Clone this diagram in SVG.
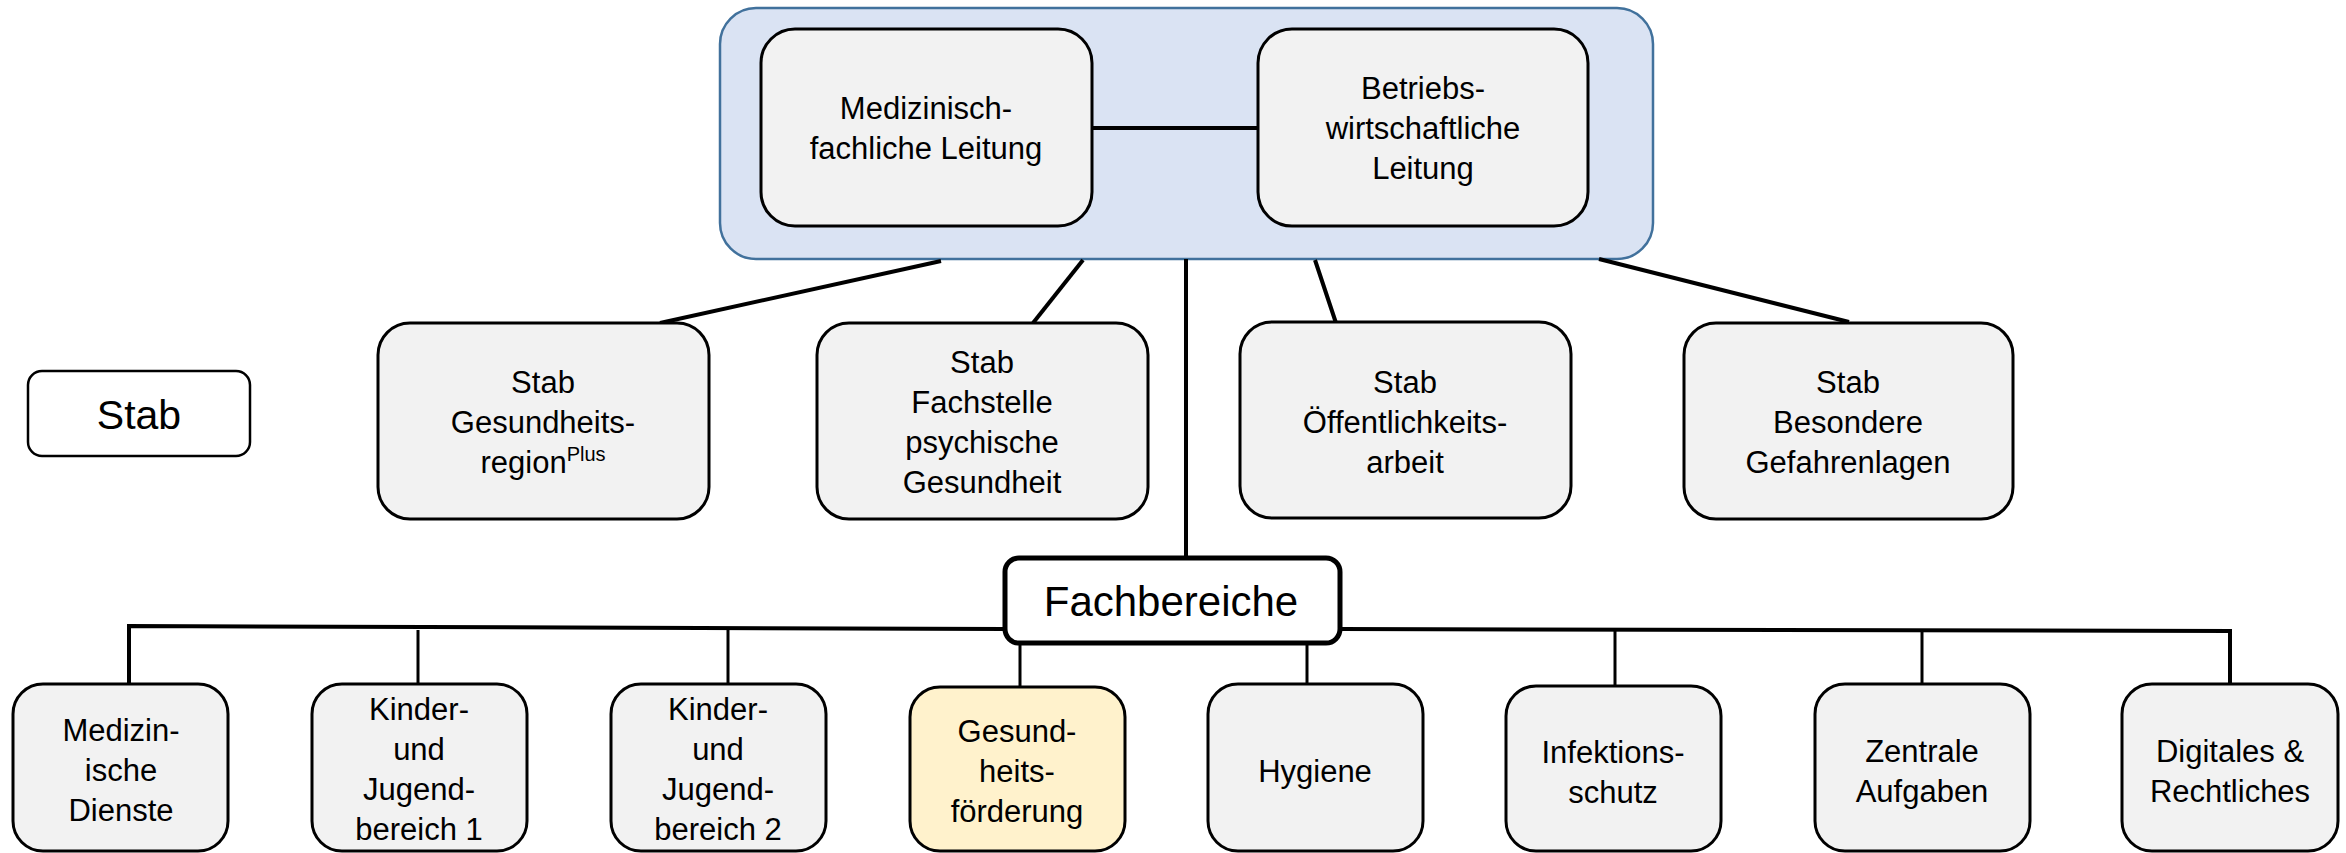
<svg xmlns="http://www.w3.org/2000/svg" width="2346" height="853" viewBox="0 0 2346 853">
<style>
text{font-family:"Liberation Sans",Arial,sans-serif;font-size:31px;fill:#000;text-anchor:middle}
.box{fill:#F2F2F2;stroke:#000;stroke-width:3}
.yel{fill:#FFF2CC;stroke:#000;stroke-width:3}
.thick{stroke:#000;stroke-width:4;fill:none}
.thin{stroke:#000;stroke-width:3;fill:none}
</style>
<rect width="2346" height="853" fill="#fff"/>
<g id="leitung">
<rect x="720" y="8" width="933" height="251" rx="36" fill="#DAE3F3" stroke="#41719C" stroke-width="2.5"/>
</g>
<g id="connectors">
<line class="thick" x1="1092" y1="128" x2="1258" y2="128"/>
<line class="thick" x1="941" y1="261" x2="660" y2="323"/>
<line class="thick" x1="1083" y1="260" x2="1033" y2="323"/>
<line class="thick" x1="1186" y1="259" x2="1186" y2="558"/>
<line class="thick" x1="1315" y1="260" x2="1336" y2="323"/>
<line class="thick" x1="1599" y1="259" x2="1849" y2="322"/>
<polyline class="thick" points="129,684 129,626 1005,629"/>
<polyline class="thick" points="1340,629 2230,631 2230,688"/>
<line class="thin" x1="418" y1="630" x2="418" y2="684"/>
<line class="thin" x1="728" y1="629" x2="728" y2="684"/>
<line class="thin" x1="1020" y1="643" x2="1020" y2="687"/>
<line class="thin" x1="1307" y1="643" x2="1307" y2="684"/>
<line class="thin" x1="1615" y1="631" x2="1615" y2="686"/>
<line class="thin" x1="1922" y1="631" x2="1922" y2="684"/>
</g>
<g id="medizinisch-fachliche-leitung">
<rect class="box" x="761" y="29" width="331" height="197" rx="34"/>
<text x="926" y="119">Medizinisch-</text>
<text x="926" y="159">fachliche Leitung</text>
</g>
<g id="betriebswirtschaftliche-leitung">
<rect class="box" x="1258" y="29" width="330" height="197" rx="34"/>
<text x="1423" y="99">Betriebs-</text>
<text x="1423" y="139">wirtschaftliche</text>
<text x="1423" y="179">Leitung</text>
</g>
<g id="stab-legende">
<rect x="28" y="371" width="222" height="85" rx="14" fill="#fff" stroke="#000" stroke-width="2.5"/>
<text x="139" y="429" style="font-size:41px">Stab</text>
</g>
<g id="stab-gesundheitsregion">
<rect class="box" x="378" y="323" width="331" height="196" rx="32"/>
<text x="543" y="393">Stab</text>
<text x="543" y="433">Gesundheits-</text>
<text x="543" y="473">region<tspan style="font-size:20px" dy="-12">Plus</tspan></text>
</g>
<g id="stab-fachstelle">
<rect class="box" x="817" y="323" width="331" height="196" rx="32"/>
<text x="982" y="373">Stab</text>
<text x="982" y="413">Fachstelle</text>
<text x="982" y="453">psychische</text>
<text x="982" y="493">Gesundheit</text>
</g>
<g id="stab-oeffentlichkeitsarbeit">
<rect class="box" x="1240" y="322" width="331" height="196" rx="32"/>
<text x="1405" y="393">Stab</text>
<text x="1405" y="433">Öffentlichkeits-</text>
<text x="1405" y="473">arbeit</text>
</g>
<g id="stab-besondere-gefahrenlagen">
<rect class="box" x="1684" y="323" width="329" height="196" rx="32"/>
<text x="1848" y="393">Stab</text>
<text x="1848" y="433">Besondere</text>
<text x="1848" y="473">Gefahrenlagen</text>
</g>
<g id="fachbereiche">
<rect x="1005" y="558" width="335" height="85" rx="14" fill="#fff" stroke="#000" stroke-width="5"/>
<text x="1171" y="616" style="font-size:42px">Fachbereiche</text>
</g>
<g id="medizinische-dienste">
<rect class="box" x="13" y="684" width="215" height="167" rx="30"/>
<text x="121" y="741">Medizin-</text>
<text x="121" y="781">ische</text>
<text x="121" y="821">Dienste</text>
</g>
<g id="kinder-jugend-1">
<rect class="box" x="312" y="684" width="215" height="167" rx="30"/>
<text x="419" y="720">Kinder-</text>
<text x="419" y="760">und</text>
<text x="419" y="800">Jugend-</text>
<text x="419" y="840">bereich 1</text>
</g>
<g id="kinder-jugend-2">
<rect class="box" x="611" y="684" width="215" height="167" rx="30"/>
<text x="718" y="720">Kinder-</text>
<text x="718" y="760">und</text>
<text x="718" y="800">Jugend-</text>
<text x="718" y="840">bereich 2</text>
</g>
<g id="gesundheitsfoerderung">
<rect class="yel" x="910" y="687" width="215" height="164" rx="30"/>
<text x="1017" y="742">Gesund-</text>
<text x="1017" y="782">heits-</text>
<text x="1017" y="822">förderung</text>
</g>
<g id="hygiene">
<rect class="box" x="1208" y="684" width="215" height="167" rx="30"/>
<text x="1315" y="782">Hygiene</text>
</g>
<g id="infektionsschutz">
<rect class="box" x="1506" y="686" width="215" height="165" rx="30"/>
<text x="1613" y="763">Infektions-</text>
<text x="1613" y="803">schutz</text>
</g>
<g id="zentrale-aufgaben">
<rect class="box" x="1815" y="684" width="215" height="167" rx="30"/>
<text x="1922" y="762">Zentrale</text>
<text x="1922" y="802">Aufgaben</text>
</g>
<g id="digitales-rechtliches">
<rect class="box" x="2122" y="684" width="216" height="167" rx="30"/>
<text x="2230" y="762">Digitales &amp;</text>
<text x="2230" y="802">Rechtliches</text>
</g>
</svg>
